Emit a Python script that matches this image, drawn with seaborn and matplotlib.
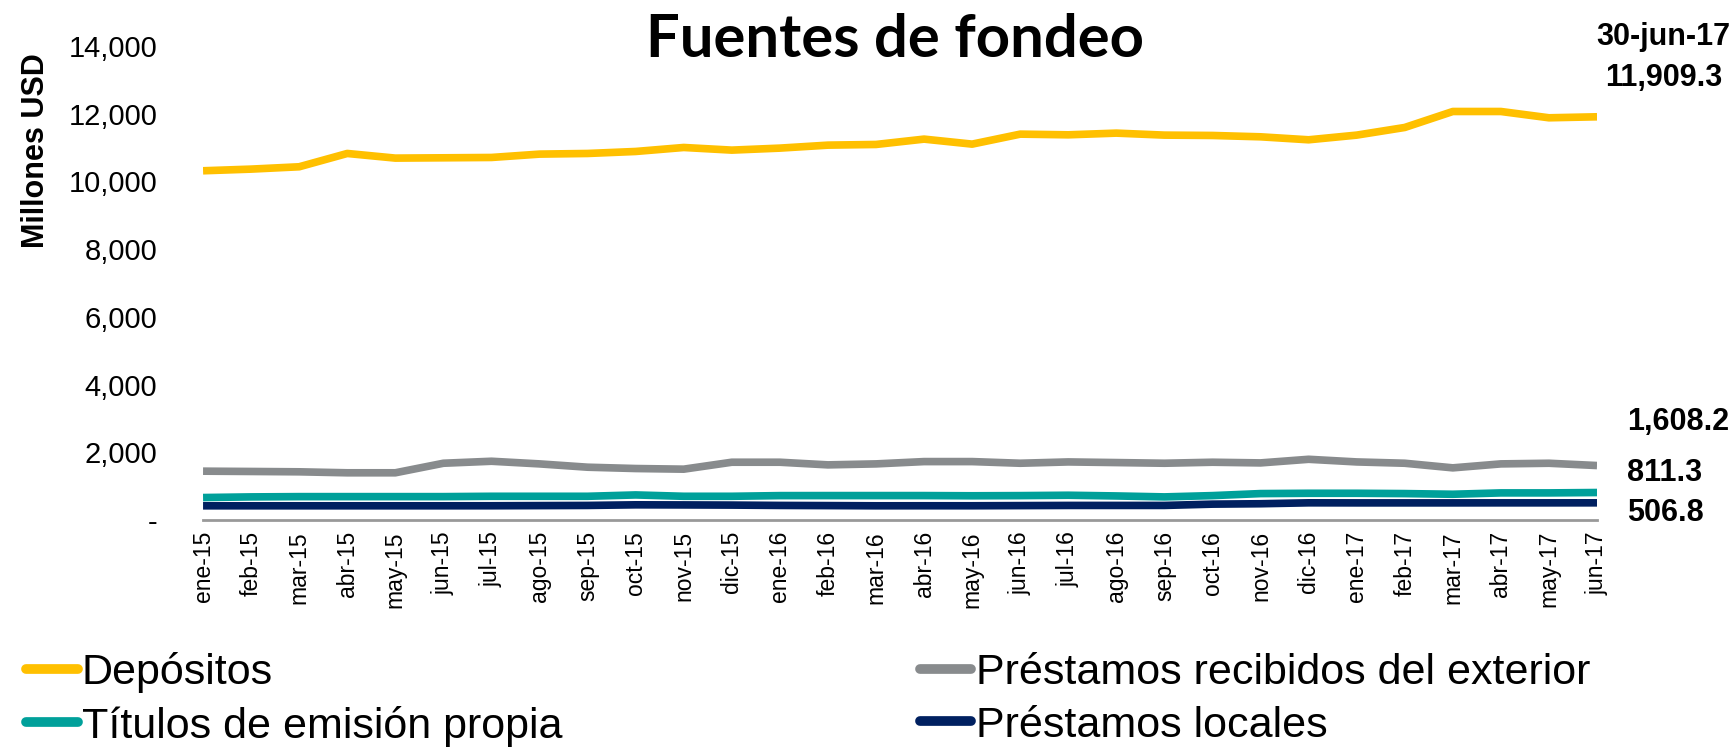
import pandas as pd
import matplotlib
matplotlib.use('Agg')
import matplotlib.pyplot as plt
import seaborn as sns
from matplotlib.lines import Line2D

sns.set_style('white')
plt.rcParams['font.family'] = ['Liberation Sans', 'DejaVu Sans']
plt.rcParams['text.color'] = 'black'
plt.rcParams['axes.labelcolor'] = 'black'
plt.rcParams['xtick.color'] = 'black'
plt.rcParams['ytick.color'] = 'black'

# Months (ene-15 .. jun-17)
meses = ['ene-15', 'feb-15', 'mar-15', 'abr-15', 'may-15', 'jun-15', 'jul-15', 'ago-15',
         'sep-15', 'oct-15', 'nov-15', 'dic-15', 'ene-16', 'feb-16', 'mar-16', 'abr-16',
         'may-16', 'jun-16', 'jul-16', 'ago-16', 'sep-16', 'oct-16', 'nov-16', 'dic-16',
         'ene-17', 'feb-17', 'mar-17', 'abr-17', 'may-17', 'jun-17']

# Millones USD
depositos = [10315, 10364, 10433, 10826, 10689, 10698, 10708, 10807, 10826, 10885,
             11003, 10925, 10984, 11072, 11092, 11250, 11102, 11397, 11377, 11427,
             11368, 11358, 11318, 11230, 11368, 11594, 12066, 12066, 11880, 11909.3]
exterior = [1442, 1433, 1423, 1394, 1394, 1676, 1735, 1657, 1559, 1520,
            1501, 1706, 1706, 1628, 1657, 1725, 1725, 1676, 1715, 1696,
            1676, 1706, 1686, 1793, 1715, 1676, 1540, 1657, 1676, 1608.2]
titulos = [663, 682, 690, 690, 690, 690, 700, 700, 700, 740,
           700, 700, 720, 721, 721, 721, 715, 720, 731, 710,
           682, 720, 780, 789, 789, 780, 760, 800, 800, 811.3]
locales = [419, 419, 419, 419, 419, 419, 420, 425, 430, 448,
           445, 440, 430, 425, 419, 420, 420, 425, 430, 430,
           430, 468, 480, 507, 505, 505, 505, 506, 506, 506.8]

series = ['Depósitos', 'Préstamos recibidos del exterior',
          'Títulos de emisión propia', 'Préstamos locales']
colores = ['#FFC000', '#888B8D', '#00A09A', '#002060']

df = pd.DataFrame({
    'idx': list(range(len(meses))) * 4,
    'valor': depositos + exterior + titulos + locales,
    'serie': [s for s in series for _ in meses],
})

fig = plt.figure(figsize=(17.31, 7.47), dpi=100)
ax = fig.add_axes([0.1173, 0.3039, 0.8053, 0.6345])

sns.lineplot(data=df, x='idx', y='valor', hue='serie', palette=dict(zip(series, colores)),
             hue_order=series, linewidth=5.5, ax=ax, legend=False, solid_capstyle='butt')

ax.set_xlim(0, len(meses) - 1)
ax.set_ylim(0, 14000)
ax.set_xticks(range(len(meses)))
ax.set_xticklabels(meses, rotation=90, fontsize=16.5)
ax.set_yticks(range(0, 14001, 2000))
ax.set_yticklabels(['-'] + [f'{v:,}' for v in range(2000, 14001, 2000)], fontsize=21)
ax.tick_params(axis='x', pad=8, length=0)
ax.tick_params(axis='y', pad=33, length=0)
ax.set_xlabel('')
ax.set_ylabel('Millones USD', fontsize=22, fontweight='bold')
ax.yaxis.set_label_coords(-0.109, 0.78)

for s in ['left', 'right', 'top']:
    ax.spines[s].set_visible(False)
ax.spines['bottom'].set_color('#999999')
ax.spines['bottom'].set_linewidth(2)
ax.grid(False)

fig.text(0.517, 0.946, 'Fuentes de fondeo', ha='center', va='center',
         fontsize=43, fontweight='bold', family=['Lato', 'DejaVu Sans'])

fig.text(0.961, 0.950, '30-jun-17', ha='center', va='center', fontsize=22, fontweight='bold')
fig.text(0.961, 0.896, f'{depositos[-1]:,.1f}', ha='center', va='center', fontsize=22, fontweight='bold')
fig.text(0.940, 0.435, f'{exterior[-1]:,.1f}', ha='left', va='center', fontsize=22, fontweight='bold')
fig.text(0.940, 0.367, f'{titulos[-1]:,.1f}', ha='left', va='center', fontsize=22, fontweight='bold')
fig.text(0.940, 0.313, f'{locales[-1]:,.1f}', ha='left', va='center', fontsize=22, fontweight='bold')

handles = [Line2D([0], [0], color=c, lw=7, solid_capstyle='round') for c in colores]
order = [0, 2, 1, 3]
fig.legend([handles[i] for i in order], [series[i] for i in order], ncol=2,
           loc='lower left', bbox_to_anchor=(0.0, -0.034), frameon=False,
           prop={'family': ['Liberation Sans', 'DejaVu Sans'], 'size': 31},
           handlelength=1.2, handletextpad=0.1, columnspacing=8.3, labelspacing=0.3,
           borderaxespad=0.2)

fig.savefig('out.png', dpi=100)
